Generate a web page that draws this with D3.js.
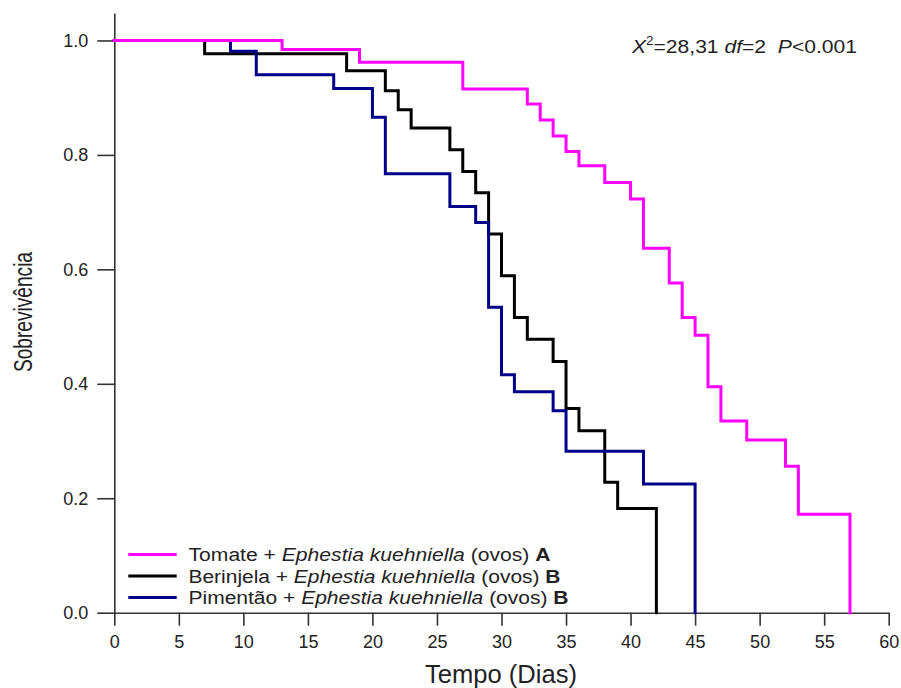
<!DOCTYPE html>
<html>
<head>
<meta charset="utf-8">
<script src="https://cdn.jsdelivr.net/npm/d3@7"></script>
<style>
  html, body { margin: 0; padding: 0; background: #fff; }
  svg { display: block; font-family: "Liberation Sans", Arial, sans-serif; }
</style>
</head>
<body>
<svg id="chart" width="901" height="688"></svg>
<script>
// ---- Data ----
const seriesNames = ["Tomate", "Berinjela", "Pimentão"];
const seriesGroups = ["A", "B", "B"];

const tomateTime = [0, 13, 19, 27, 32, 33, 34, 35, 36, 38, 40, 41, 43, 44, 45, 46, 47, 49, 52, 53, 57];
const tomateSurv = [1.0, 0.984, 0.962, 0.915, 0.889, 0.861, 0.833, 0.806, 0.781, 0.752, 0.723, 0.637, 0.576, 0.516, 0.485, 0.395, 0.335, 0.302, 0.256, 0.172, 0.0];

const berinjelaTime = [0, 7, 18, 21, 22, 23, 26, 27, 28, 29, 30, 31, 32, 34, 35, 36, 38, 39, 42];
const berinjelaSurv = [1.0, 0.977, 0.947, 0.912, 0.879, 0.847, 0.809, 0.771, 0.734, 0.662, 0.589, 0.516, 0.478, 0.439, 0.357, 0.318, 0.228, 0.182, 0.0];

const pimentaoTime = [0, 9, 11, 17, 20, 21, 26, 28, 29, 30, 31, 34, 35, 41, 45];
const pimentaoSurv = [1.0, 0.981, 0.940, 0.916, 0.866, 0.767, 0.710, 0.682, 0.534, 0.416, 0.386, 0.353, 0.282, 0.225, 0.0];

const xTicks = [0, 5, 10, 15, 20, 25, 30, 35, 40, 45, 50, 55, 60];
const yTicks = [0.0, 0.2, 0.4, 0.6, 0.8, 1.0];

// ---- Layout ----
const svg = d3.select("#chart");
const x = d3.scaleLinear().domain([0, 60]).range([114.3, 888.7]);
const y = d3.scaleLinear().domain([0, 1.048]).range([612.7, 13]);
const textColor = "#222";
const axisColor = "#333";

const series = [
  { name: seriesNames[1], group: seriesGroups[1], t: berinjelaTime, s: berinjelaSurv, color: "#000000" },
  { name: seriesNames[2], group: seriesGroups[2], t: pimentaoTime, s: pimentaoSurv, color: "#000088" },
  { name: seriesNames[0], group: seriesGroups[0], t: tomateTime, s: tomateSurv, color: "#ff00ff" }
];

// ---- Axes ----
const yAxis = d3.axisLeft(y).tickValues(yTicks).tickFormat(d3.format(".1f"))
  .tickSize(17).tickSizeOuter(0).tickPadding(9);
const gy = svg.append("g").attr("transform", `translate(${x(0)},0)`).call(yAxis);

const xAxis = d3.axisBottom(x).tickValues(xTicks).tickFormat(d3.format("d"))
  .tickSize(13).tickSizeOuter(0).tickPadding(10);
const gx = svg.append("g").attr("transform", `translate(0,${y(0)})`).call(xAxis);

[gx, gy].forEach(g => {
  g.select(".domain").attr("stroke", axisColor).attr("stroke-width", 1.6);
  g.selectAll(".tick line").attr("stroke", axisColor).attr("stroke-width", 1.6);
  g.selectAll(".tick text").attr("fill", textColor)
    .style("font-family", '"Liberation Sans", Arial, sans-serif')
    .style("font-size", "18px");
});

// Axis titles
svg.append("text")
  .attr("x", 501).attr("y", 683)
  .attr("text-anchor", "middle")
  .attr("fill", textColor)
  .style("font-size", "26px")
  .attr("textLength", 152).attr("lengthAdjust", "spacingAndGlyphs")
  .text("Tempo (Dias)");

svg.append("text")
  .attr("transform", "translate(32,312) rotate(-90)")
  .attr("text-anchor", "middle")
  .attr("fill", textColor)
  .style("font-size", "25px")
  .attr("textLength", 120).attr("lengthAdjust", "spacingAndGlyphs")
  .text("Sobrevivência");

// ---- Survival step lines ----
const line = d3.line()
  .x(d => x(d[0]))
  .y(d => y(d[1]))
  .curve(d3.curveStepAfter);

svg.append("g").selectAll("path")
  .data(series)
  .join("path")
  .attr("d", d => line(d.t.map((t, i) => [t, d.s[i]])))
  .attr("fill", "none")
  .attr("stroke", d => d.color)
  .attr("stroke-width", 3)
  .attr("stroke-linejoin", "miter")
  .attr("stroke-linecap", "square");

// ---- Legend ----
const legendOrder = [series[2], series[0], series[1]];
const legendLengths = [362, 372, 380];
const legend = svg.append("g");
legendOrder.forEach((d, i) => {
  const ly = 554.5 + i * 21.5;
  legend.append("line")
    .attr("x1", 128.3).attr("x2", 176.7)
    .attr("y1", ly).attr("y2", ly)
    .attr("stroke", d.color).attr("stroke-width", 3);
  const t = legend.append("text")
    .attr("x", 188.5).attr("y", ly + 6.5)
    .attr("fill", textColor)
    .style("font-size", "18px")
    .attr("textLength", legendLengths[i]).attr("lengthAdjust", "spacingAndGlyphs");
  t.append("tspan").text(d.name + " + ");
  t.append("tspan").style("font-style", "italic").text("Ephestia kuehniella");
  t.append("tspan").text(" (ovos) ");
  t.append("tspan").style("font-weight", "bold").text(d.group);
});

// ---- Statistic annotation ----
const ann = svg.append("text")
  .attr("x", 632).attr("y", 53)
  .attr("fill", textColor)
  .style("font-size", "19px")
  .attr("textLength", 225).attr("lengthAdjust", "spacingAndGlyphs");
ann.append("tspan").style("font-style", "italic").text("X");
ann.append("tspan").attr("dy", -8).style("font-size", "12px").text("2");
ann.append("tspan").attr("dy", 8).text("=28,31 ");
ann.append("tspan").style("font-style", "italic").text("df");
ann.append("tspan").text("=2\u00a0\u00a0");
ann.append("tspan").style("font-style", "italic").text("P");
ann.append("tspan").text("<0.001");
</script>
</body>
</html>
